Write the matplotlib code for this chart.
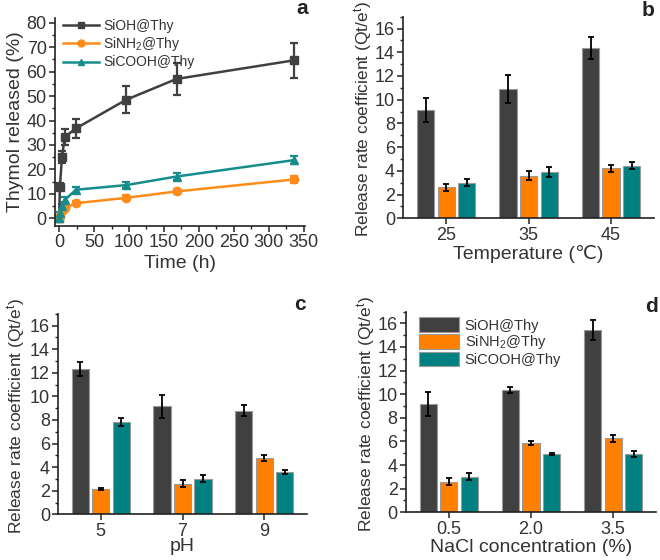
import numpy as np
import matplotlib
matplotlib.use("Agg")
import matplotlib.pyplot as plt
from matplotlib.ticker import MultipleLocator
from matplotlib.lines import Line2D

plt.rcParams['font.family'] = ['Liberation Sans', 'DejaVu Sans']
plt.rcParams['mathtext.default'] = 'regular'
TXT = '#333333'
plt.rcParams['text.color'] = TXT
plt.rcParams['axes.labelcolor'] = TXT
plt.rcParams['xtick.color'] = '#222222'
plt.rcParams['ytick.color'] = '#222222'
plt.rcParams['xtick.labelcolor'] = TXT
plt.rcParams['ytick.labelcolor'] = TXT

# ---------------- data ----------------
series = ['SiOH@Thy', 'SiNH$_2$@Thy', 'SiCOOH@Thy']
colors = ['#404040', '#ff8000', '#008080']
line_colors = ['#404040', '#ff8c1a', '#168c8c']
markers = ['s', 'o', '^']

time_h = [0, 1, 4, 8, 24, 96, 168, 336]
rel_sioh = [0, 13, 25, 33.3, 36.8, 48.5, 57, 64.6]
rel_sioh_err = [0.5, 1.5, 2.5, 3.3, 4.0, 5.5, 6.4, 7.3]
rel_sinh2 = [0, 1.0, 3.0, 4.2, 6.2, 8.4, 11.0, 15.9]
rel_sinh2_err = [0.3, 0.5, 0.8, 0.8, 0.8, 1.0, 1.2, 1.6]
rel_sicooh = [0, 2.0, 5.0, 7.6, 11.7, 13.6, 17.1, 23.8]
rel_sicooh_err = [0.3, 0.6, 0.8, 1.0, 1.2, 1.3, 1.5, 1.7]

temp_labels = ['25', '35', '45']
temp_vals = [[9.15, 10.9, 14.35], [2.6, 3.6, 4.2], [3.0, 3.9, 4.45]]
temp_errs = [[1.0, 1.15, 0.9], [0.3, 0.35, 0.3], [0.3, 0.4, 0.3]]

ph_labels = ['5', '7', '9']
ph_vals = [[12.35, 9.15, 8.8], [2.15, 2.6, 4.75], [7.85, 3.0, 3.6]]
ph_errs = [[0.6, 1.0, 0.45], [0.12, 0.3, 0.25], [0.35, 0.3, 0.15]]

nacl_labels = ['0.5', '2.0', '3.5']
nacl_vals = [[9.15, 10.35, 15.45], [2.6, 5.85, 6.25], [3.0, 4.95, 4.9]]
nacl_errs = [[1.0, 0.25, 0.85], [0.3, 0.15, 0.3], [0.3, 0.1, 0.25]]

# ---------------- figure ----------------
fig = plt.figure(figsize=(6.6, 5.6), dpi=100)
FS = 13
LFS = 14
BLFS = 12.5

def style(ax):
    for s in ['top', 'right']:
        ax.spines[s].set_visible(False)
    for s in ['left', 'bottom']:
        ax.spines[s].set_linewidth(1.2)
        ax.spines[s].set_color('#222222')
    ax.tick_params(which='major', direction='out', length=4, width=1.1, labelsize=FS, pad=2)
    ax.tick_params(which='minor', direction='out', length=2.5, width=1.0)

W, H = 660.0, 560.0
def pos(left, right, top, bottom):
    return [left / W, 1 - bottom / H, (right - left) / W, (bottom - top) / H]

# panel a
axa = fig.add_axes(pos(55, 305, 17.8, 225.7))
style(axa)
handles = []
for vals, errs, c, m, lab in zip([rel_sioh, rel_sinh2, rel_sicooh],
                                  [rel_sioh_err, rel_sinh2_err, rel_sicooh_err],
                                  line_colors, markers, series):
    axa.errorbar(time_h, vals, yerr=errs, color=c, marker=m, markersize=6,
                 lw=1.8, capsize=3, elinewidth=1.6, capthick=1.6)
    handles.append(Line2D([], [], color=c, marker=m, markersize=5, lw=1.8, label=lab))
axa.set_xlim(-6, 352)
axa.set_ylim(-3, 82)
axa.xaxis.set_major_locator(MultipleLocator(50))
axa.xaxis.set_minor_locator(MultipleLocator(25))
axa.yaxis.set_major_locator(MultipleLocator(10))
axa.yaxis.set_minor_locator(MultipleLocator(5))
axa.set_xlabel('Time (h)', fontsize=LFS, labelpad=3)
axa.set_ylabel('Thymol released (%)', fontsize=LFS, labelpad=2)
axa.legend(handles=handles, loc='upper left', bbox_to_anchor=(0.01, 1.02), frameon=False,
           fontsize=10, handlelength=2.6, handletextpad=0.3, labelspacing=0.15, borderaxespad=0)

def bars(ax, labels, vals, errs, xlabel, legend=False):
    style(ax)
    x = np.arange(len(labels))
    off = 0.25
    bw = 0.21
    for i, (v, e, c, lab) in enumerate(zip(vals, errs, colors, series)):
        ax.bar(x + (i - 1) * off, v, width=bw, color=c, edgecolor='#9a9a9a', linewidth=0.8,
               yerr=e, capsize=2.5, error_kw=dict(elinewidth=1.3, capthick=1.3, ecolor='black'),
               label=lab)
    ax.set_xticks(x)
    ax.set_xticklabels(labels)
    ax.set_xlim(-0.52, 2.52)
    ax.set_ylim(0, 17)
    ax.yaxis.set_major_locator(MultipleLocator(2))
    ax.yaxis.set_minor_locator(MultipleLocator(1))
    ax.set_xlabel(xlabel, fontsize=LFS, labelpad=1)
    ax.set_ylabel('Release rate coefficient (Qt/e$^{t}$)', fontsize=BLFS)
    if legend:
        ax.legend(loc='upper left', bbox_to_anchor=(0.03, 1.0), frameon=False, fontsize=10.5,
                  handlelength=2.7, handleheight=1.15, handletextpad=0.4, labelspacing=0.05,
                  borderaxespad=0)

axb = fig.add_axes(pos(403.3, 654, 16.7, 218.3))
bars(axb, temp_labels, temp_vals, temp_errs, 'Temperature (\u2103)')
axb.yaxis.set_label_coords(-0.112, 0.49)

axc = fig.add_axes(pos(58.3, 306.7, 313.9, 514.3))
bars(axc, ph_labels, ph_vals, ph_errs, 'pH')
axc.xaxis.labelpad = -1
axc.yaxis.set_label_coords(-0.122, 0.49)

axd = fig.add_axes(pos(406, 656, 311.5, 512.3))
bars(axd, nacl_labels, nacl_vals, nacl_errs, 'NaCl concentration (%)', legend=True)
axd.yaxis.set_label_coords(-0.112, 0.49)

# panel letters
for lx, ly, t in [(301.7, 9, 'a'), (648, 11, 'b'), (300, 304, 'c'), (651.7, 306, 'd')]:
    fig.text(lx / W, 1 - ly / H, t, fontsize=15, fontweight='bold', ha='center', va='center',
             color='#222222')

fig.savefig('out.png', dpi=100)
